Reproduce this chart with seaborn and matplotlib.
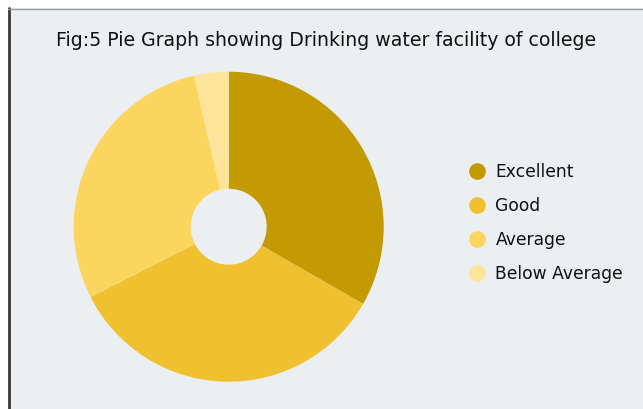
import seaborn as sns
import matplotlib.pyplot as plt
from matplotlib.lines import Line2D

# data (percent of responses)
categories = ["Excellent", "Good", "Average", "Below Average"]
values = [33.3, 34.2, 28.9, 3.6]
colors = ["#C49A02", "#EFC02F", "#FCD55F", "#FDE49B"]

sns.set_theme(style="white")
plt.rcParams["font.family"] = ["DejaVu Sans"]

bg = "#EBEFF2"
fig = plt.figure(figsize=(6.43, 4.09), dpi=100)
fig.patch.set_facecolor("white")

# panel background with the frame lines (left dark, top light)
fig.patches.append(plt.Rectangle((8 / 643, 0), 1, 1 - 8 / 409, transform=fig.transFigure,
                                 facecolor=bg, edgecolor="none", zorder=-10))
fig.add_artist(Line2D([8.5 / 643, 8.5 / 643], [0, 1 - 8 / 409], transform=fig.transFigure,
                      color="#3a3a3a", lw=2))
fig.add_artist(Line2D([8 / 643, 1], [1 - 8.5 / 409, 1 - 8.5 / 409], transform=fig.transFigure,
                      color="#9a9a9a", lw=1))

# pie axes: centre (228.7, 226.7) px, radius 155 px
r = 155
ax = fig.add_axes([(228.7 - r) / 643, (409 - 226.7 - r) / 409, 2 * r / 643, 2 * r / 409])
ax.set_facecolor("none")
ax.pie(values, colors=colors, startangle=90, counterclock=False,
       wedgeprops=dict(width=0.755, edgecolor="none"))
ax.set_xlim(-1, 1)
ax.set_ylim(-1, 1)
ax.axis("off")

fig.text(326 / 643, 1 - 41 / 409, "Fig:5 Pie Graph showing Drinking water facility of college",
         ha="center", va="center", fontsize=13.6, color="#111111")

handles = [Line2D([], [], marker="o", linestyle="none", markersize=12,
                  markerfacecolor=c, markeredgecolor="none") for c in colors]
fig.legend(handles, categories, loc="center left", bbox_to_anchor=(451 / 643, 1 - 223 / 409),
           frameon=False, fontsize=12.3, handletextpad=0.5, labelspacing=0.95,
           handlelength=1.2, labelcolor="#111111")

fig.savefig("out.png", dpi=100, facecolor=fig.get_facecolor())
